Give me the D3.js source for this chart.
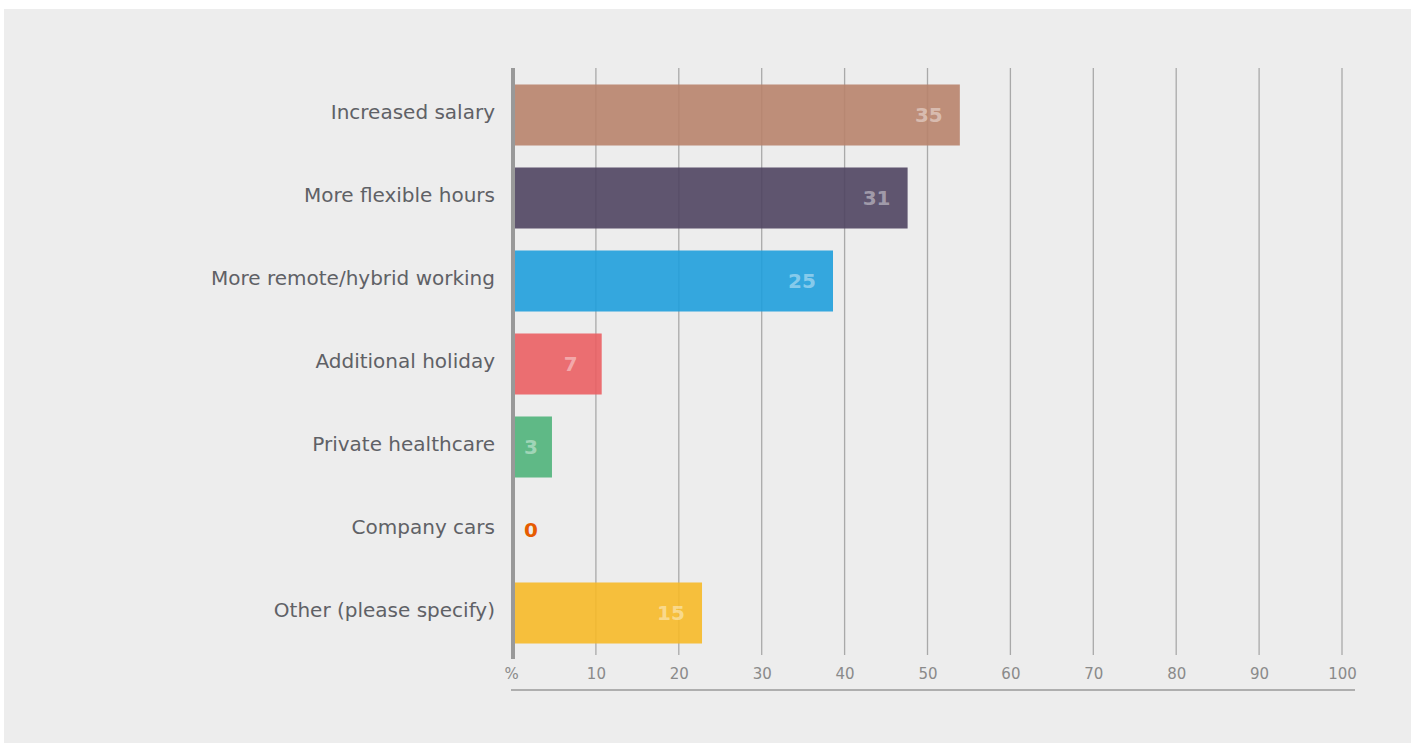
<!DOCTYPE html>
<html><head><meta charset="utf-8">
<script src="https://cdn.jsdelivr.net/npm/d3@7"></script>
<style>
html,body{margin:0;padding:0;background:#fff;}
svg{display:block;}
</style></head>
<body>
<script>
const categories = ["Increased salary","More flexible hours","More remote/hybrid working","Additional holiday","Private healthcare","Company cars","Other (please specify)"];
const counts = [35,31,25,7,3,0,15];
const percents = [53.9,47.6,38.6,10.7,4.7,0,22.8];
const colors = ["#b8836b","#4f4460","#1f9fdb","#ea5f63","#4fb37a","#e65c00","#f6b928"];
const tickValues = [0,10,20,30,40,50,60,70,80,90,100];

const W = 1415, H = 743;
const svg = d3.select("body").append("svg").attr("width", W).attr("height", H);
svg.append("rect").attr("x",4).attr("y",9).attr("width",1407).attr("height",H-9).attr("fill","#ededed");

const x = d3.scaleLinear().domain([0,100]).range([513,1342]);
const y = d3.scaleBand().domain(categories).range([73.5,654.5]).paddingInner(0.265).paddingOuter(0.1325);

const font = "Tahoma, 'DejaVu Sans', Verdana, sans-serif";

// gridlines
svg.append("g").selectAll("line").data(tickValues.slice(1)).join("line")
  .attr("x1", d=>x(d)).attr("x2", d=>x(d)).attr("y1",68).attr("y2",655)
  .attr("stroke","#a9a9a9").attr("stroke-width",1.3);

// bars
svg.append("g").selectAll("rect").data(categories).join("rect")
  .attr("x", x(0)).attr("y", d=>y(d))
  .attr("width", (d,i)=>x(percents[i])-x(0)).attr("height", y.bandwidth())
  .attr("fill",(d,i)=>colors[i]).attr("fill-opacity",0.9);

// axis line
svg.append("line").attr("x1",513).attr("x2",513).attr("y1",68).attr("y2",659)
  .attr("stroke","#999").attr("stroke-width",4);

// value labels
svg.append("g").selectAll("text").data(categories).join("text")
  .attr("x",(d,i)=>Math.max(x(percents[i])-31, x(0)+18))
  .attr("y", d=>y(d)+y.bandwidth()/2).attr("dy","0.36em")
  .attr("text-anchor","middle")
  .style("font-family",font).style("font-weight","bold").style("font-size","20px")
  .attr("fill",(d,i)=>counts[i]===0 ? colors[i] : "#ffffff")
  .attr("fill-opacity",(d,i)=>counts[i]===0 ? 1 : 0.42)
  .text((d,i)=>counts[i]);

// category labels
svg.append("g").selectAll("text").data(categories).join("text")
  .attr("x",495).attr("y", d=>y(d)+y.bandwidth()/2).attr("dy","0.2em")
  .attr("text-anchor","end")
  .style("font-family",font).style("font-size","20px")
  .attr("fill","#5f6166")
  .text(d=>d);

// bottom axis
const axis = d3.axisBottom(x).tickValues(tickValues).tickSize(0).tickPadding(0)
  .tickFormat(d=> d===0 ? "%" : d);
const gx = svg.append("g").attr("transform","translate(0,679)").call(axis);
gx.select(".domain").remove();
gx.selectAll("text").style("font-family",font).style("font-size","15px").attr("fill","#8a8a8a").attr("dy","0");
gx.selectAll(".tick").filter(d=>d===0).select("text").attr("x",-2);

svg.append("line").attr("x1",511).attr("x2",1355).attr("y1",690).attr("y2",690)
  .attr("stroke","#999").attr("stroke-width",1.5);
</script>
</body></html>
